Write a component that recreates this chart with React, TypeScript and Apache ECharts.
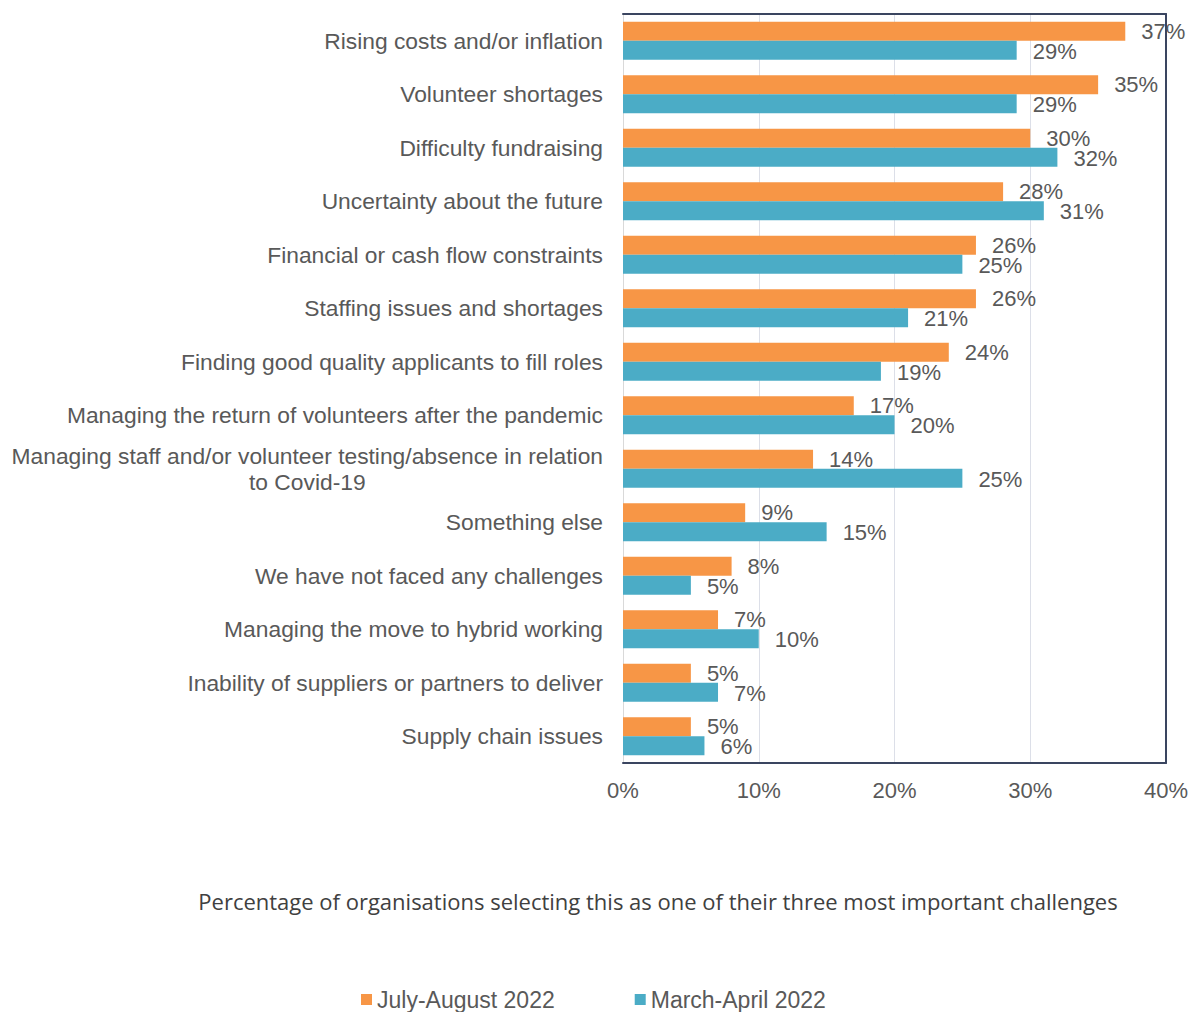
import React, { useEffect, useRef } from "react";
import * as echarts from "echarts";

const categories = [
  "Rising costs and/or inflation",
  "Volunteer shortages",
  "Difficulty fundraising",
  "Uncertainty about the future",
  "Financial or cash flow constraints",
  "Staffing issues and shortages",
  "Finding good quality applicants to fill roles",
  "Managing the return of volunteers after the pandemic",
  "Managing staff and/or volunteer testing/absence in relation\nto Covid-19",
  "Something else",
  "We have not faced any challenges",
  "Managing the move to hybrid working",
  "Inability of suppliers or partners to deliver",
  "Supply chain issues",
];
const julyAug2022 = [37, 35, 30, 28, 26, 26, 24, 17, 14, 9, 8, 7, 5, 5];
const marchApr2022 = [29, 29, 32, 31, 25, 21, 19, 20, 25, 15, 5, 10, 7, 6];
const seriesNames = ["July-August 2022", "March-April 2022"];
const xTicks = [0, 10, 20, 30, 40];
const axisTitle =
  "Percentage of organisations selecting this as one of their three most important challenges";

const FONT = "'Liberation Sans', Arial, sans-serif";
const TXT = "#595959";
const FRAME = "#3a4560";

export default function App() {
  const ref = useRef<HTMLDivElement>(null);
  useEffect(() => {
    if (!ref.current) return;
    const chart = echarts.init(ref.current, null, { renderer: "svg" });
    const labelCommon = {
      show: true,
      position: "right" as const,
      distance: 16,
      color: TXT,
      fontFamily: FONT,
      fontSize: 22,
      formatter: "{c}%",
    };
    chart.setOption({
      animation: false,
      backgroundColor: "#ffffff",
      textStyle: { fontFamily: FONT },
      title: {
        text: axisTitle,
        left: 653,
        top: 885,
        textAlign: "center",
        textStyle: {
          color: "#404040",
          fontSize: 22,
          fontWeight: "normal",
          fontFamily: "'Open Sans', sans-serif",
        },
      },
      grid: {
        left: 623,
        right: 29,
        top: 14,
        bottom: 249,
        containLabel: false,
        outerBoundsMode: "none",
        show: false,
      },
      legend: {
        top: 983,
        left: 356,
        itemWidth: 11,
        itemHeight: 11,
        itemGap: 80,
        icon: "rect",
        textStyle: { color: TXT, fontSize: 23, fontFamily: FONT },
        data: seriesNames,
      },
      xAxis: [
        {
          type: "value",
          min: xTicks[0],
          max: xTicks[xTicks.length - 1],
          interval: 10,
          axisLine: { show: true, lineStyle: { color: FRAME, width: 2 } },
          axisTick: { show: false },
          splitLine: { show: true, lineStyle: { color: "#dcdfe8", width: 1 } },
          axisLabel: {
            formatter: "{value}%",
            color: TXT,
            fontSize: 22,
            fontFamily: FONT,
            margin: 16,
          },
        },
        {
          type: "value",
          position: "top",
          min: xTicks[0],
          max: xTicks[xTicks.length - 1],
          interval: 10,
          axisLine: { show: true, onZero: false, lineStyle: { color: FRAME, width: 2 } },
          axisTick: { show: false },
          axisLabel: { show: false },
          splitLine: { show: false },
        },
      ],
      yAxis: [
        {
          type: "category",
          data: categories,
          inverse: true,
          axisLine: { show: true, lineStyle: { color: "#d9d9d9", width: 1 } },
          axisTick: { show: false },
          axisLabel: {
            color: TXT,
            fontSize: 22.8,
            fontFamily: FONT,
            margin: 20,
            align: "right",
            lineHeight: 26,
            formatter: (v: string) =>
              v
                .split("\n")
                .map((s, i, arr) =>
                  arr.length > 1 && i > 0 ? "{c|" + s + "}" : s
                )
                .join("\n"),
            rich: {
              c: {
                color: TXT,
                fontSize: 22.8,
                fontFamily: FONT,
                align: "center",
                width: 0,
              },
            },
          },
        },
        {
          type: "category",
          data: categories,
          inverse: true,
          position: "right",
          axisLine: { show: true, onZero: false, lineStyle: { color: FRAME, width: 2 } },
          axisTick: { show: false },
          axisLabel: { show: false },
        },
      ],
      series: [
        {
          name: seriesNames[0],
          type: "bar",
          data: julyAug2022,
          barWidth: 19,
          barGap: "0%",
          itemStyle: { color: "#f79646" },
          label: { ...labelCommon, offset: [0, 0] },
        },
        {
          name: seriesNames[1],
          type: "bar",
          data: marchApr2022,
          barWidth: 19,
          barGap: "0%",
          itemStyle: { color: "#4bacc6" },
          label: { ...labelCommon, offset: [0, 1] },
        },
      ],
    });
    return () => chart.dispose();
  }, []);
  return (
    <div
      ref={ref}
      style={{ position: "fixed", left: 0, top: 0, width: 1195, height: 1012 }}
    />
  );
}
